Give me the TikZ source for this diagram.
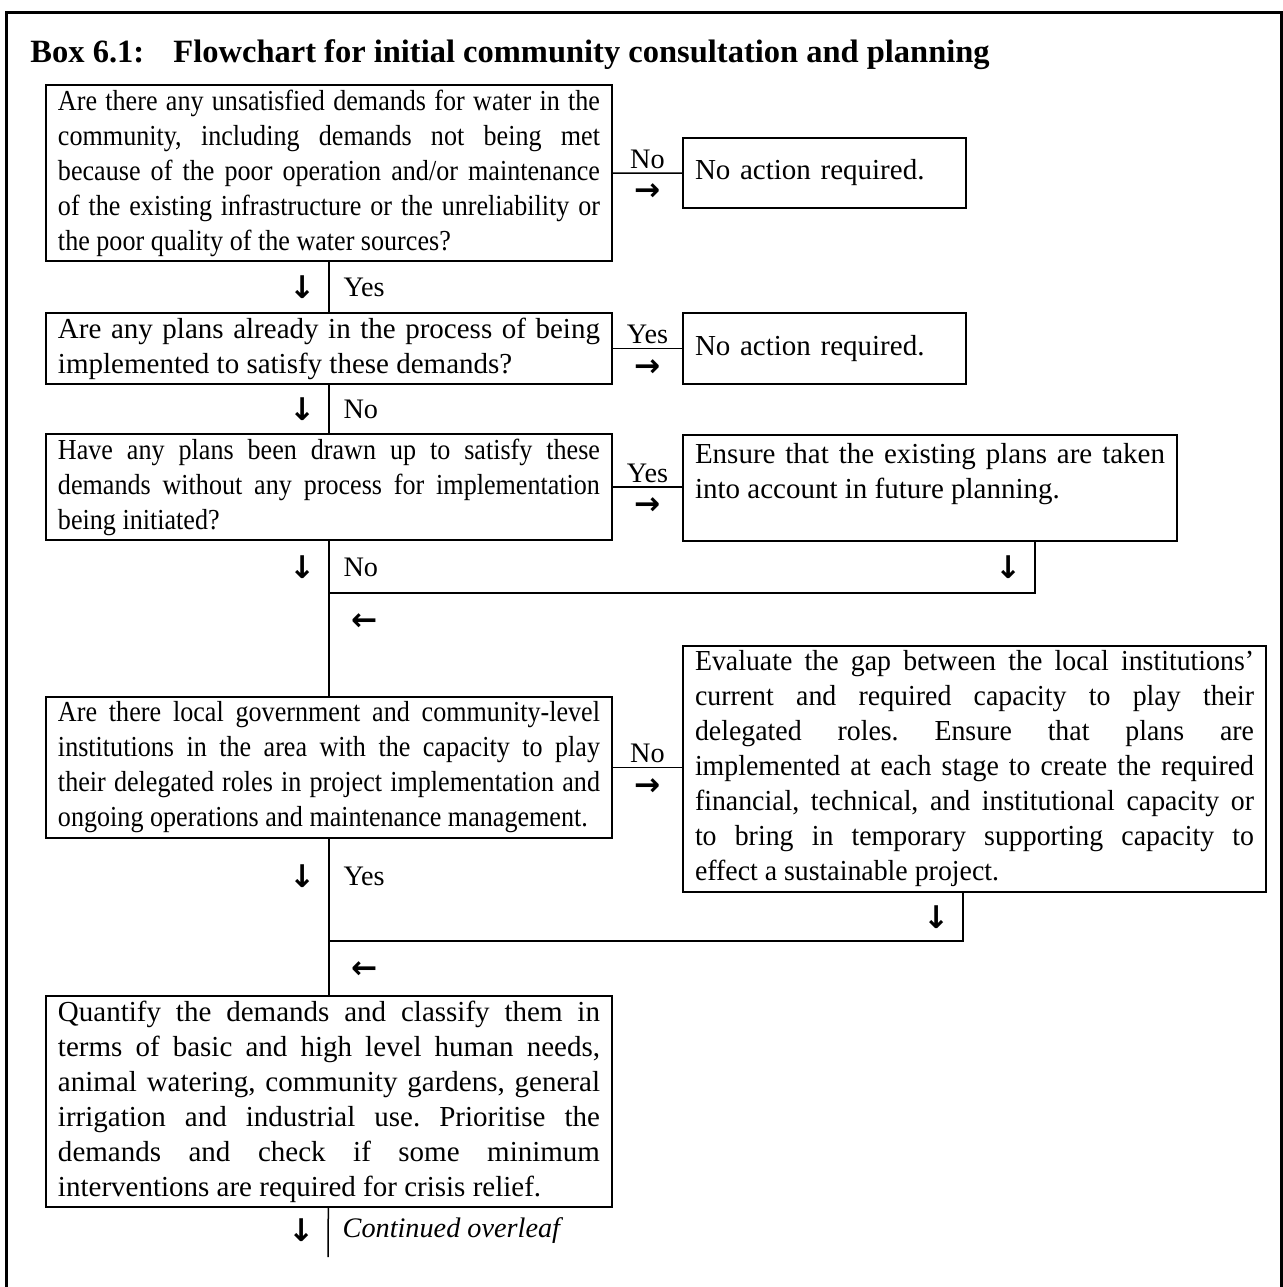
\documentclass[tikz,border=0pt]{standalone}
\usepackage{fontspec}
\setmainfont{Liberation Serif}
\newfontfamily\narrowfont{Liberation Serif}[FakeStretch=0.9]
\newfontfamily\midfont{Liberation Serif}[FakeStretch=0.96]
\newfontfamily\arrowfont{DejaVu Sans}
\usetikzlibrary{positioning}
\tolerance=9999
\hbadness=10000
\frenchspacing

\begin{document}
\begin{tikzpicture}[
      x=0.4pt, y=-0.4pt,
      font=\fontsize{11.6}{14}\selectfont\frenchspacing,
      box/.style={draw, line width=0.8pt, anchor=north west, inner xsep=4.8pt,
        inner ysep=1pt, align=justify},
      qbox/.style={box, text width=216.8pt},
      abox/.style={box, align=left},
      link/.style={line width=0.6pt},
      lab/.style={inner sep=1.5pt, font=\fontsize{11.3}{13}\selectfont},
      tip/.style={inner sep=1pt, font=\arrowfont\bfseries\fontsize{12.5}{12.5}\selectfont},
    ]
    \useasboundingbox (0,0) rectangle (1283,1287);
    % frame, open at the foot of the page
    \draw[line width=1.2pt] (6,1300) |- (1281,12) -- (1281,1300);
    \node[anchor=base west, inner sep=0, font=\bfseries\fontsize{13}{16}\selectfont]
      (title) at (30,62) {Box 6.1:\hspace{0.9em}Flowchart for initial community consultation and planning};

    % questions down the left
    \node[qbox, minimum height=70.4pt] (q1) at (45,84) {\narrowfont
      Are there any unsatisfied demands for water in the\linebreak
      community, including demands not being met\linebreak
      because of the poor operation and/or maintenance\linebreak
      of the existing infrastructure or the unreliability or\linebreak
      the poor quality of the water sources?};
    \node[qbox, minimum height=28.4pt] (q2) at (45,312) {Are any plans already in the process of being\linebreak
      implemented to satisfy these demands?};
    \node[qbox, minimum height=42.4pt] (q3) at (45,433) {\narrowfont
      Have any plans been drawn up to satisfy these\linebreak
      demands without any process for implementation\linebreak
      being initiated?};
    \node[qbox, minimum height=56.4pt] (q4) at (45,696) {\narrowfont
      Are there local government and community-level\linebreak
      institutions in the area with the capacity to play\linebreak
      their delegated roles in project implementation and\linebreak
      ongoing operations and maintenance management.};
    \node[qbox, minimum height=84.4pt] (q5) at (45,995) {Quantify the demands and classify them in\linebreak
      terms of basic and high level human needs,\linebreak
      animal watering, community gardens, general\linebreak
      irrigation and industrial use. Prioritise the\linebreak
      demands and check if some minimum\linebreak
      interventions are required for crisis relief.};

    % outcomes on the right
    \node[abox, text width=103.6pt, minimum height=28pt] (n1) at (682,137) {No action required.};
    \node[abox, text width=103.6pt, minimum height=28.4pt] (n2) at (682,312) {No action required.};
    \node[box, text width=188pt, minimum height=42.4pt] (keep) at (682,434) {Ensure that the existing plans are taken\linebreak
      into account in future planning.\par\mbox{}};
    \node[box, text width=223.6pt, minimum height=98.4pt] (gap) at (682,645) {\midfont
      Evaluate the gap between the local institutions’\linebreak
      current and required capacity to play their\linebreak
      delegated roles. Ensure that plans are\linebreak
      implemented at each stage to create the required\linebreak
      financial, technical, and institutional capacity or\linebreak
      to bring in temporary supporting capacity to\linebreak
      effect a sustainable project.};

    \coordinate (join1) at (328,593);
    \coordinate (drop1) at (1035,593);
    \coordinate (join2) at (328,941);
    \coordinate (drop2) at (963,941);
    \coordinate (tail) at (328,1257);

    % side branches
    \draw[link] (q1) -- node[lab, above] {No} node[tip, below=3pt] {→} (n1);
    \draw[link] (q2) -- node[lab, above] {Yes} node[tip, below=3pt] {→} (n2);
    \draw[link] (q3.east) -- node[lab, above] {Yes} node[tip, below=3pt] {→} (q3.east -| keep.west);
    \draw[link] (q4.east) -- node[lab, above] {No} node[tip, below=3pt] {→} (q4.east -| gap.west);

    % main line
    \draw[link] (q1) -- node[tip, left=4pt] {↓} node[lab, right=4pt] {Yes} (q2);
    \draw[link] (q2) -- node[tip, left=4pt] {↓} node[lab, right=4pt] {No} (q3);
    \draw[link] (q3) -- node[tip, pos=.17, left=4pt] {↓} node[lab, pos=.17, right=4pt] {No} (q4);
    \draw[link] (q4) -- node[tip, pos=.24, left=4pt] {↓} node[lab, pos=.24, right=4pt] {Yes} (q5);
    \draw[link] (q5) -- node[tip, pos=.45, left=4pt] {↓}
      node[lab, pos=.45, right=4pt] {\itshape Continued overleaf} (tail);

    % returns to the main line
    \draw[link] (keep.south -| drop1) -- node[tip, left=4pt] {↓} (drop1) -- (join1);
    \node[tip, below right=7pt and 8pt of join1] (back1) {←};
    \draw[link] (gap.south -| drop2) -- node[tip, left=4pt] {↓} (drop2) -- (join2);
    \node[tip, below right=7pt and 8pt of join2] (back2) {←};
  \end{tikzpicture}
\end{document}
